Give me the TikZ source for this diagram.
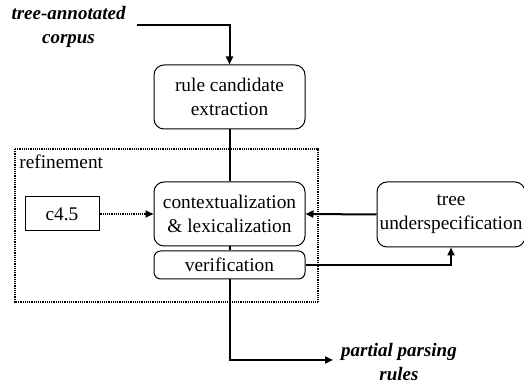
\documentclass[tikz,border=0pt]{standalone}
\usepackage{fontspec}
\setmainfont{Liberation Serif}
\usetikzlibrary{arrows.meta}
\begin{document}
\begin{tikzpicture}[x=0.6pt,y=-0.6pt,
  every node/.style={font=\fontsize{11.6}{14.4}\selectfont},
  rbox/.style={draw,line width=0.6pt,rounded corners=6pt,align=center,inner sep=1pt},
  sbox/.style={draw,line width=0.6pt,align=center,inner sep=1pt},
  io/.style={align=center,font=\fontsize{11.4}{14.8}\selectfont\bfseries\itshape,inner sep=0pt},
  conn/.style={line width=1.2pt,-{Triangle[length=4.8pt,width=4.2pt]}},
  plain/.style={line width=1.2pt},
  dotconn/.style={line width=1pt,dash pattern=on 0.6pt off 0.5pt,-{Triangle[length=4.8pt,width=4.2pt]}}
]
\useasboundingbox (0,0) rectangle (524,383);
% refinement frame
\draw[line width=1.1pt,dash pattern=on 0.6pt off 0.5pt] (15,149) rectangle (318,302);
\node[anchor=west,inner sep=0pt] (reflabel) at (19,162) {refinement};
% nodes
\node[io] (inp) at (68.5,27) {tree-annotated\\corpus};
\node[io] (out) at (399,362) {partial parsing\\rules};
\node[rbox,minimum width=151*0.6pt,minimum height=64*0.6pt] (rule) at (229.5,97) {rule candidate\\extraction};
\node[rbox,minimum width=151*0.6pt,minimum height=64*0.6pt] (ctx) at (229.5,214) {contextualization\\\& lexicalization};
\node[rbox,rounded corners=4pt,minimum width=151*0.6pt,minimum height=28*0.6pt] (verif) at (229.5,265) {verification};
\node[sbox,minimum width=74*0.6pt,minimum height=34*0.6pt] (c45) at (62,214) {c4.5};
\node[rbox,minimum width=148*0.6pt,minimum height=65*0.6pt] (tree) at (451,214.5) {tree\\underspecification};
% free ends
\coordinate (inst) at (137,25);
\coordinate (outend) at (333,360);
% connectors
\draw[conn] (inst) -| (rule.north);
\draw[plain] (rule.south) -- (ctx.north);
\draw[plain] (ctx.south) -- (verif.north);
\draw[conn] (verif.south) |- (outend);
\draw[dotconn] (c45.east) -- (ctx.west);
\draw[conn] (tree.west) -- (ctx.east);
\draw[conn] (verif.east) -| (tree.south);
\end{tikzpicture}
\end{document}
